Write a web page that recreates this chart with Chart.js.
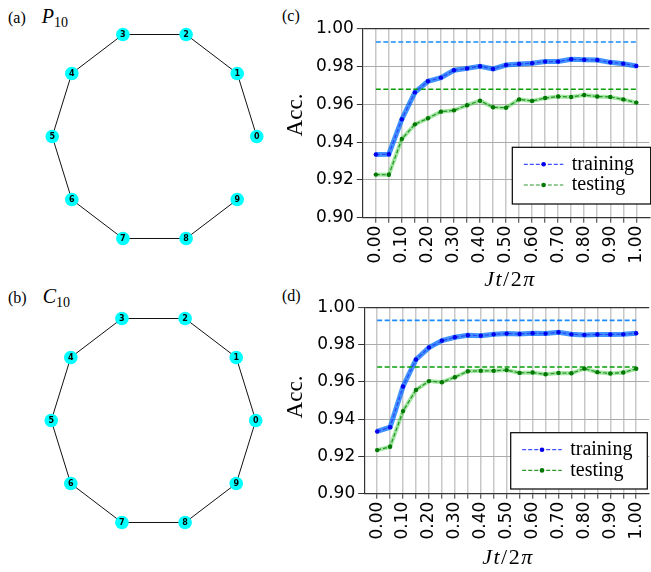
<!DOCTYPE html>
<html>
<head>
<meta charset="utf-8">
<script src="https://cdn.jsdelivr.net/npm/chart.js@4.4.1/dist/chart.umd.min.js"></script>
<style>
  body { margin: 0; width: 651px; height: 572px; overflow: hidden; background: #fff; position: relative; font-family: "Liberation Serif", serif; }
  canvas { position: absolute; }
  .lbl { position: absolute; white-space: nowrap; color: #000; line-height: 1; }
  .panel { font-size: 16px; transform: translate(0, -50%); }
  .panel i { margin-left: 16px; font-size: 20px; }
  .panel sub { font-size: 14px; font-style: normal; vertical-align: -4px; line-height: 0; }
  .ylab { font-size: 23px; transform: translate(-50%, -50%) rotate(-90deg); }
  .xlab { font-size: 22px; letter-spacing: 1.5px; transform: translate(-50%, -50%); }
</style>
</head>
<body>
<div class="lbl panel" style="left:8px; top:15.5px">(a)<i>P<sub>10</sub></i></div>
<div class="lbl panel" style="left:8px; top:296px">(b)<i>C<sub>10</sub></i></div>
<div class="lbl panel" style="left:282px; top:16px">(c)</div>
<div class="lbl panel" style="left:282px; top:296px">(d)</div>

<canvas id="graphA" width="259" height="271" style="left:25px; top:1px"></canvas>
<canvas id="graphB" width="259" height="271" style="left:24px; top:285px"></canvas>
<canvas id="accC" width="390" height="270" style="left:270px; top:0px"></canvas>
<canvas id="accD" width="390" height="290" style="left:270px; top:280px"></canvas>

<div class="lbl ylab" style="left:294px; top:115px">Acc.</div>
<div class="lbl xlab" style="left:510px; top:279px"><i>Jt</i>/2<i>π</i></div>
<div class="lbl ylab" style="left:294px; top:397px">Acc.</div>
<div class="lbl xlab" style="left:508px; top:557px"><i>Jt</i>/2<i>π</i></div>

<script>
// valeurs de Jt/2pi (axe x)
const xValues = [0.00, 0.05, 0.10, 0.15, 0.20, 0.25, 0.30, 0.35, 0.40, 0.45, 0.50,
                 0.55, 0.60, 0.65, 0.70, 0.75, 0.80, 0.85, 0.90, 0.95, 1.00];
const yTicks = [0.90, 0.92, 0.94, 0.96, 0.98, 1.00];

// (c) chemin P10
const trainP10 = [0.9334, 0.9336, 0.9521, 0.9663, 0.9722, 0.9741, 0.9780, 0.9790, 0.9801, 0.9787, 0.9808,
                  0.9813, 0.9817, 0.9826, 0.9826, 0.9838, 0.9836, 0.9834, 0.9822, 0.9815, 0.9803];
const testP10  = [0.9228, 0.9227, 0.9417, 0.9494, 0.9526, 0.9561, 0.9568, 0.9595, 0.9619, 0.9584, 0.9582,
                  0.9626, 0.9618, 0.9633, 0.9641, 0.9639, 0.9649, 0.9641, 0.9639, 0.9626, 0.9609];

// (d) cycle C10
const trainC10 = [0.9334, 0.9357, 0.9575, 0.9720, 0.9784, 0.9821, 0.9839, 0.9850, 0.9848, 0.9855, 0.9859,
                  0.9857, 0.9861, 0.9859, 0.9866, 0.9855, 0.9852, 0.9854, 0.9854, 0.9855, 0.9861];
const testC10  = [0.9234, 0.9252, 0.9443, 0.9557, 0.9604, 0.9598, 0.9625, 0.9657, 0.9659, 0.9659, 0.9663,
                  0.9648, 0.9650, 0.9641, 0.9648, 0.9646, 0.9671, 0.9652, 0.9645, 0.9650, 0.9670];

// lignes de reference (pointillees)
const refTrain = 0.993;
const refTest = 0.968;

// graphes : disposition circulaire
const nodeLabels = ['0', '1', '2', '3', '4', '5', '6', '7', '8', '9'];
const nodeX = [1.000, 0.809, 0.309, -0.309, -0.809, -1.000, -0.809, -0.309, 0.309, 0.809];
const nodeY = [0.000, 0.588, 0.951, 0.951, 0.588, 0.000, -0.588, -0.951, -0.951, -0.588];
const pathEdges = [[0, 1], [1, 2], [2, 3], [3, 4], [4, 5], [5, 6], [6, 7], [7, 8], [8, 9]];
const cycleEdges = [[0, 1], [1, 2], [2, 3], [3, 4], [4, 5], [5, 6], [6, 7], [7, 8], [8, 9], [9, 0]];

Chart.defaults.animation = false;
Chart.defaults.plugins.legend.display = false;
Chart.defaults.plugins.tooltip.enabled = false;

// numeros dans les noeuds
const nodeText = {
  id: 'nodeText',
  afterDatasetsDraw(chart) {
    const ctx = chart.ctx;
    const meta = chart.getDatasetMeta(0);
    ctx.save();
    ctx.font = 'bold 8px "DejaVu Sans"';
    ctx.fillStyle = '#000';
    ctx.textAlign = 'center';
    ctx.textBaseline = 'middle';
    meta.data.forEach((pt, i) => ctx.fillText(nodeLabels[i], pt.x, pt.y + 0.5));
    ctx.restore();
  }
};

function gerarGrafo(id, edges) {
  const nodes = nodeX.map((x, i) => ({ x: x, y: nodeY[i] }));
  const datasets = [{
    data: nodes, pointRadius: 6.8, pointBackgroundColor: '#00ffff', pointBorderWidth: 0,
    showLine: false, order: 0
  }];
  edges.forEach(e => {
    datasets.push({
      data: [nodes[e[0]], nodes[e[1]]], showLine: true, borderColor: '#111', borderWidth: 1,
      pointRadius: 0, order: 1
    });
  });
  new Chart(document.getElementById(id), {
    type: 'scatter',
    data: { datasets: datasets },
    options: {
      responsive: false,
      layout: { padding: 0 },
      scales: {
        x: { display: false, min: -1.2, max: 1.2 },
        y: { display: false, min: -1.2, max: 1.2 }
      }
    },
    plugins: [nodeText]
  });
}

// legende encadree dans le coin bas droit
const legendBox = {
  id: 'legendBox',
  afterDatasetsDraw(chart, args, opts) {
    const ctx = chart.ctx;
    ctx.save();
    ctx.fillStyle = '#fff';
    ctx.fillRect(opts.x, opts.y, opts.w, opts.h);
    ctx.strokeStyle = '#000';
    ctx.lineWidth = 1.2;
    ctx.strokeRect(opts.x, opts.y, opts.w, opts.h);
    chart.data.datasets.filter(d => d.label).forEach((d, i) => {
      const y = opts.y + 17 + i * 20.7;
      ctx.strokeStyle = d.borderColor;
      ctx.lineWidth = d.borderWidth;
      ctx.setLineDash(d.borderDash);
      ctx.beginPath();
      ctx.moveTo(opts.x + 11.5, y);
      ctx.lineTo(opts.x + 51, y);
      ctx.stroke();
      ctx.setLineDash([]);
      ctx.fillStyle = d.pointBackgroundColor;
      ctx.beginPath();
      ctx.arc(opts.x + 31.3, y, 2.3, 0, 2 * Math.PI);
      ctx.fill();
      ctx.fillStyle = '#000';
      ctx.font = '20px "Liberation Serif"';
      ctx.textBaseline = 'middle';
      ctx.fillText(d.label, opts.x + 59.5, y);
    });
    ctx.restore();
  }
};

function gerarGrafico(id, train, test, area, legend) {
  const canvas = document.getElementById(id);
  const W = canvas.width, H = canvas.height;
  const pts = arr => arr.map((v, i) => ({ x: xValues[i], y: v }));
  const ref = v => [{ x: xValues[0], y: v }, { x: xValues[xValues.length - 1], y: v }];

  new Chart(canvas, {
    type: 'line',
    data: {
      datasets: [
        { label: 'training', data: pts(train), borderColor: 'rgba(40,60,255,0.9)', borderWidth: 1.2,
          borderDash: [4, 2], pointRadius: 2.2, pointBackgroundColor: '#0000ee', pointBorderWidth: 0, order: 0 },
        { label: 'testing', data: pts(test), borderColor: 'rgba(20,140,20,0.9)', borderWidth: 1.2,
          borderDash: [4, 2], pointRadius: 2.2, pointBackgroundColor: '#007800', pointBorderWidth: 0, order: 1 },
        { data: ref(refTrain), borderColor: '#1a8cff', borderWidth: 1.6, borderDash: [5, 2.5], pointRadius: 0, order: 2 },
        { data: ref(refTest), borderColor: '#06a006', borderWidth: 1.6, borderDash: [5, 2.5], pointRadius: 0, order: 3 },
        { data: pts(train), borderColor: 'rgba(0,110,255,0.75)', borderWidth: 5, pointRadius: 0, order: 4 },
        { data: pts(test), borderColor: 'rgba(70,205,70,0.5)', borderWidth: 4, pointRadius: 0, order: 5 }
      ]
    },
    options: {
      responsive: false,
      layout: { padding: { left: 0, top: area.top, right: W - area.right, bottom: 0 } },
      scales: {
        x: {
          type: 'linear', min: -0.05, max: 1.05,
          afterBuildTicks: s => { s.ticks = xValues.map(v => ({ value: v })); },
          afterFit: s => { s.height = H - area.bottom; },
          ticks: {
            autoSkip: false, minRotation: 90, maxRotation: 90, padding: 3, color: '#000',
            font: { family: 'DejaVu Sans', size: 17 },
            callback: (v, i) => (i % 2 === 0 ? v.toFixed(2) : '')
          },
          grid: { color: '#c8c8c8', lineWidth: 1.5, tickLength: 5, tickColor: '#333', tickWidth: 1 },
          border: { color: '#333', width: 1.2 }
        },
        y: {
          min: 0.90, max: 1.00,
          afterBuildTicks: s => { s.ticks = yTicks.map(v => ({ value: v })); },
          afterFit: s => { s.width = area.left; },
          ticks: {
            padding: 3, color: '#000',
            font: { family: 'DejaVu Sans', size: 17 },
            callback: v => v.toFixed(2)
          },
          grid: {
            color: c => (c.tick && c.tick.value === 1.00 ? '#333' : '#ababab'),
            lineWidth: c => (c.tick && c.tick.value === 1.00 ? 1.2 : 1),
            tickLength: 6, tickColor: '#333', tickWidth: 1
          },
          border: { color: '#333', width: 1.2 }
        }
      },
      plugins: { legendBox: legend }
    },
    plugins: [legendBox]
  });
}

gerarGrafo('graphA', pathEdges);
gerarGrafo('graphB', cycleEdges);
gerarGrafico('accC', trainP10, testP10,
  { top: 28.7, bottom: 217.7, left: 92.8, right: 383.9 },
  { x: 242.3, y: 147.3, w: 138.4, h: 56.7 });
gerarGrafico('accD', trainC10, testC10,
  { top: 27.3, bottom: 213.7, left: 94.2, right: 381.4 },
  { x: 240.7, y: 152.7, w: 136.6, h: 56.3 });
</script>
</body>
</html>
